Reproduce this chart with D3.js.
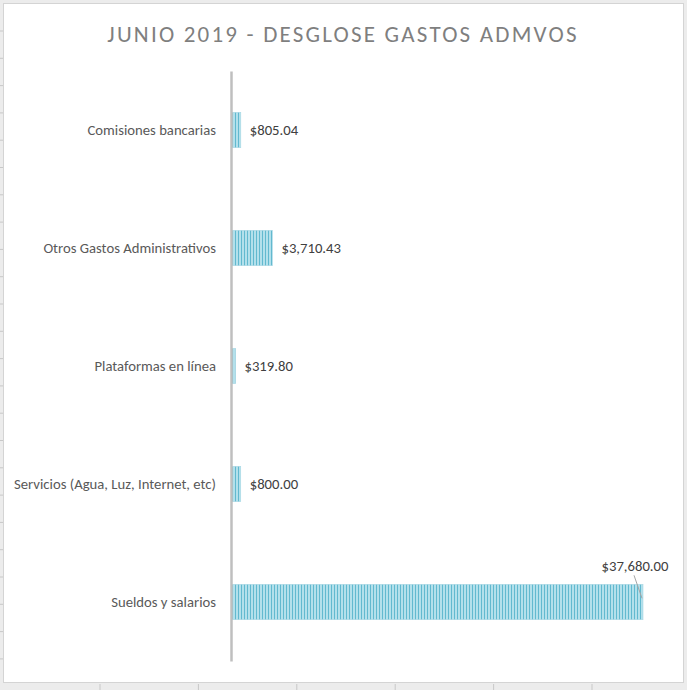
<!DOCTYPE html>
<html>
<head>
<meta charset="utf-8">
<script src="https://cdn.jsdelivr.net/npm/d3@7"></script>
<style>
  body { margin: 0; background: #fff; }
  svg text { font-family: Carlito, Calibri, "Liberation Sans Narrow", Lato, sans-serif; }
</style>
</head>
<body>
<div id="chart"></div>
<script>
// data
const categories = ["Comisiones bancarias", "Otros Gastos Administrativos", "Plataformas en línea",
                    "Servicios (Agua, Luz, Internet, etc)", "Sueldos y salarios"];
const values = [805.04, 3710.43, 319.80, 800.00, 37680.00];
const title = "JUNIO 2019 - DESGLOSE GASTOS ADMVOS";

const W = 687, H = 690;
const margin = {top: 71, right: 44, bottom: 29, left: 232};
const width = W - margin.left - margin.right,
      height = H - margin.top - margin.bottom;

const svg = d3.select("#chart").append("svg")
    .attr("width", W).attr("height", H);

// spreadsheet grid behind the chart
svg.append("rect").attr("width", W).attr("height", H).attr("fill", "#ececec");
svg.append("rect").attr("x", 3.5).attr("y", 3.5).attr("width", 680).attr("height", 679)
    .attr("fill", "#fff").attr("stroke", "#d4d4d4");
svg.append("g").selectAll("line").data(d3.range(100, W, 98.4)).enter().append("line")
    .attr("x1", d => d).attr("x2", d => d).attr("y1", 684).attr("y2", H)
    .attr("stroke", "#c8c8c8");
svg.append("g").selectAll("line").data(d3.range(31, 684, 27.3)).enter().append("line")
    .attr("x1", 0).attr("x2", 3).attr("y1", d => d).attr("y2", d => d)
    .attr("stroke", "#c8c8c8");

// striped pattern fill
const defs = svg.append("defs");
const pat = defs.append("pattern").attr("id", "stripes")
    .attr("patternUnits", "userSpaceOnUse").attr("width", 3).attr("height", 10);
pat.append("rect").attr("width", 3).attr("height", 10).attr("fill", "#b3e0eb");
pat.append("rect").attr("width", 1).attr("height", 10).attr("fill", "#62b9cf");

const g = svg.append("g").attr("transform", `translate(${margin.left}, ${margin.top})`);

const x = d3.scaleLinear().domain([0, 37680]).range([0, 411]);
const y = d3.scaleBand().domain(categories).range([0, height]).paddingInner(0.7).paddingOuter(0.35);

// bars
g.selectAll(".bar").data(categories).enter().append("rect")
    .attr("class", "bar")
    .attr("x", 0)
    .attr("y", d => y(d))
    .attr("width", (d, i) => x(values[i]))
    .attr("height", y.bandwidth())
    .attr("fill", "url(#stripes)")
    .attr("stroke", "#a8d8e4").attr("stroke-width", 0.6);

// category axis
const yAxis = g.append("g").attr("transform", "translate(-1,0)")
    .call(d3.axisLeft(y).tickSize(0).tickPadding(15));
yAxis.select(".domain").attr("stroke", "#bfbfbf").attr("stroke-width", 2.5);
yAxis.selectAll("text").attr("font-size", 14.7).attr("fill", "#595959");

// value labels
const fmt = d3.format(",.2f");
g.selectAll(".val").data(categories).enter().append("text")
    .attr("class", "val")
    .attr("x", (d, i) => i === 4 ? x(values[i]) - 8 : x(values[i]) + 9)
    .attr("y", (d, i) => i === 4 ? y(d) - 18 : y(d) + y.bandwidth() / 2)
    .attr("dy", "0.35em")
    .attr("text-anchor", (d, i) => i === 4 ? "middle" : "start")
    .attr("font-size", 14.7).attr("fill", "#404040")
    .text((d, i) => "$" + fmt(values[i]));

// leader line for the big label
const last = categories[4];
g.append("line")
    .attr("x1", x(values[4]) - 9).attr("y1", y(last) - 9)
    .attr("x2", x(values[4]) - 1).attr("y2", y(last) + 14)
    .attr("stroke", "#a6a6a6").attr("stroke-width", 1);

// title
svg.append("text")
    .attr("x", 343).attr("y", 42)
    .attr("text-anchor", "middle")
    .attr("font-size", 23).attr("letter-spacing", 2.2)
    .attr("fill", "#7f7f7f")
    .text(title);
</script>
</body>
</html>
